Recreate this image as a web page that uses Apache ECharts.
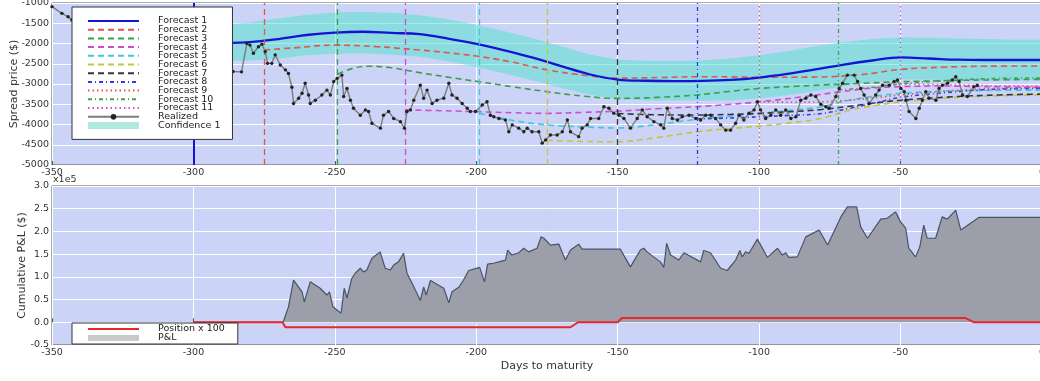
<!DOCTYPE html>
<html><head><meta charset="utf-8">
<script src="https://cdn.jsdelivr.net/npm/echarts@6/dist/echarts.min.js"></script>
<style>html,body{margin:0;padding:0;background:#fff}#c{width:1040px;height:381px}</style>
</head><body><div id="c"></div><script>
// ---------------- DATA ----------------
const dayTicks = {min: -350, max: 0, step: 50};
const priceTicks = {min: -5000, max: -1000, step: 500};
const pnlTicks = {min: -50000, max: 300000, step: 50000};

const f1 = [[-300,-1990],[-290,-1985],[-280,-1965],[-270,-1890],[-260,-1790],[-250,-1730],[-240,-1710],[-230,-1740],[-220,-1770],[-210,-1880],[-200,-2010],[-190,-2170],[-180,-2350],[-170,-2560],[-160,-2760],[-150,-2890],[-140,-2920],[-130,-2930],[-120,-2925],[-110,-2900],[-100,-2840],[-90,-2750],[-80,-2640],[-70,-2520],[-60,-2420],[-50,-2345],[-40,-2370],[-30,-2400],[-20,-2407],[-10,-2407],[0,-2407]];
const f2 = [[-275,-2160],[-265,-2110],[-250,-2040],[-235,-2080],[-220,-2160],[-210,-2230],[-200,-2310],[-188,-2450],[-175,-2650],[-160,-2800],[-150,-2855],[-135,-2840],[-122,-2820],[-110,-2825],[-100,-2835],[-82,-2830],[-64,-2770],[-50,-2640],[-35,-2585],[-20,-2560],[0,-2555]];
const f3 = [[-249,-2760],[-244,-2620],[-238,-2560],[-230,-2600],[-220,-2720],[-210,-2830],[-199,-2945],[-187,-3070],[-175,-3190],[-162,-3300],[-150,-3355],[-136,-3330],[-122,-3270],[-110,-3180],[-100,-3110],[-88,-3060],[-78,-3025],[-64,-2985],[-50,-2945],[-35,-2920],[-20,-2900],[0,-2885]];
const f4 = [[-225,-3640],[-212,-3660],[-199,-3685],[-187,-3710],[-175,-3725],[-162,-3700],[-150,-3670],[-136,-3610],[-122,-3560],[-110,-3500],[-100,-3440],[-85,-3320],[-72,-3200],[-60,-3100],[-50,-3066],[-35,-3050],[-20,-3065],[0,-3080]];
const f5 = [[-199,-3720],[-187,-3900],[-175,-4010],[-162,-4060],[-150,-4085],[-136,-4000],[-122,-3870],[-110,-3790],[-100,-3730],[-88,-3640],[-78,-3560],[-68,-3400],[-57,-3280],[-40,-3190],[-20,-3160],[0,-3150]];
const f6 = [[-175,-4390],[-162,-4420],[-150,-4425],[-136,-4320],[-122,-4180],[-110,-4100],[-100,-4040],[-88,-3950],[-78,-3850],[-68,-3650],[-58,-3520],[-50,-3440],[-30,-3330],[-15,-3290],[0,-3270]];
const f7 = [[-150,-3730],[-136,-3760],[-122,-3765],[-110,-3750],[-100,-3725],[-88,-3680],[-78,-3630],[-68,-3550],[-58,-3460],[-50,-3400],[-30,-3310],[-15,-3270],[0,-3250]];
const f8 = [[-122,-3860],[-110,-3840],[-100,-3810],[-88,-3770],[-78,-3730],[-68,-3600],[-58,-3450],[-50,-3330],[-35,-3220],[-20,-3140],[0,-3105]];
const f9 = [[-100,-3440],[-88,-3450],[-78,-3440],[-68,-3400],[-58,-3330],[-50,-3270],[-35,-3180],[-20,-3120],[0,-3080]];
const f10 = [[-72,-3150],[-60,-3080],[-50,-3000],[-35,-2920],[-20,-2870],[0,-2850]];
const f11 = [[-50,-3000],[-35,-3020],[-20,-3040],[0,-3050]];
const forecasts = [f1,f2,f3,f4,f5,f6,f7,f8,f9,f10,f11];
const forecastNames = ['Forecast 1','Forecast 2','Forecast 3','Forecast 4','Forecast 5','Forecast 6','Forecast 7','Forecast 8','Forecast 9','Forecast 10','Forecast 11'];

const bandDays  = [-300,-290,-280,-270,-260,-250,-240,-230,-220,-210,-200,-190,-180,-170,-160,-150,-140,-130,-120,-110,-100,-90,-80,-70,-60,-50,-40,-30,-20,-10,0];
const bandUpper = [-1545,-1530,-1480,-1380,-1290,-1235,-1220,-1240,-1300,-1400,-1540,-1700,-1870,-2070,-2270,-2400,-2425,-2430,-2420,-2370,-2290,-2190,-2060,-1970,-1890,-1850,-1860,-1875,-1890,-1905,-1910];
const bandLower = [-2450,-2430,-2420,-2370,-2290,-2250,-2240,-2280,-2330,-2440,-2580,-2740,-2910,-3090,-3260,-3370,-3400,-3410,-3410,-3400,-3360,-3280,-3170,-3050,-2960,-2880,-2890,-2920,-2920,-2915,-2910];

const realized = [[-350,-1090],[-346.5,-1255],[-344.3,-1340],[-343,-1420],[-338,-1650],[-330,-1900],[-320,-2150],[-310,-2350],[-300,-2500],[-292,-2620],[-286,-2690],
[-283,-2700],[-281.1,-2000],[-280,-2040],[-278.8,-2240],[-277,-2080],[-275.8,-2020],[-274.6,-2200],[-273.8,-2490],[-272.3,-2490],[-271.1,-2280],[-269.3,-2530],[-267.5,-2650],[-266.4,-2740],[-265.2,-3080],[-264.6,-3480],[-262.8,-3350],[-261.6,-3230],[-260.5,-2980],[-259.3,-3270],[-258.7,-3480],[-256.9,-3400],[-254.6,-3270],[-252.8,-3150],[-251.6,-3270],[-250.4,-2940],[-249.2,-2860],[-247.5,-2780],[-246.9,-3310],[-245.7,-3110],[-244.5,-3400],[-243.4,-3600],[-241,-3770],[-239.2,-3640],[-238.1,-3680],[-236.9,-3970],[-233.9,-4090],[-232.8,-3770],[-231,-3680],[-229.2,-3850],[-226.8,-3930],[-225.4,-4090],[-224.5,-3680],[-223.3,-3640],[-222.1,-3400],[-219.8,-3030],[-218.6,-3350],[-217.4,-3150],[-215.6,-3480],[-213.9,-3400],[-211.5,-3350],[-209.7,-2980],[-208.6,-3270],[-206.8,-3350],[-205,-3480],[-203.2,-3600],[-202.1,-3680],[-200.3,-3680],[-197.9,-3520],[-196.2,-3440],[-195,-3770],[-193.8,-3810],[-192,-3850],[-189.7,-3890],[-188.5,-4180],[-187.3,-4010],[-185,-4090],[-183.2,-4180],[-182,-4090],[-180.3,-4180],[-177.9,-4180],[-176.7,-4460],[-175.5,-4380],[-173.8,-4260],[-171.4,-4260],[-169.6,-4180],[-167.8,-3890],[-166.7,-4180],[-163.8,-4300],[-162.6,-4090],[-160.8,-4010],[-159.6,-3850],[-156.7,-3850],[-154.9,-3560],[-153.1,-3600],[-151.4,-3720],[-149.6,-3770],[-147.8,-3850],[-145.5,-4090],[-143.1,-3850],[-141.3,-3640],[-139.6,-3810],[-137.2,-3930],[-134.8,-4010],[-133.7,-4090],[-132.5,-3600],[-130.7,-3850],[-128.9,-3890],[-127.2,-3810],[-124.8,-3770],[-122.4,-3850],[-120.7,-3890],[-118.9,-3770],[-117.1,-3770],[-115.4,-3850],[-113.6,-4010],[-111.8,-4140],[-110.1,-4140],[-108.3,-3970],[-107.1,-3770],[-105.4,-3890],[-103.6,-3720],[-101.8,-3640],[-100.6,-3440],[-99.5,-3640],[-97.7,-3850],[-95.9,-3770],[-94.1,-3640],[-92.4,-3770],[-90.6,-3640],[-88.8,-3850],[-87,-3810],[-85.3,-3400],[-83.5,-3350],[-81.7,-3270],[-80,-3310],[-78.2,-3500],[-76.4,-3560],[-75.3,-3600],[-72.9,-3310],[-71.7,-3110],[-70.5,-2980],[-68.8,-2780],[-66.4,-2780],[-65.2,-2940],[-64.1,-3110],[-62.9,-3270],[-61.1,-3480],[-58.8,-3270],[-57.6,-3150],[-56.4,-3030],[-54,-3030],[-52.3,-2940],[-51.1,-2900],[-49.9,-3110],[-48.7,-3190],[-48.1,-3400],[-47,-3680],[-44.6,-3850],[-43.4,-3600],[-42.3,-3400],[-41.1,-3190],[-39.9,-3350],[-37.5,-3400],[-36.4,-3110],[-35.2,-3030],[-33.4,-2980],[-31.7,-2900],[-30.5,-2820],[-29.3,-2940],[-28.1,-3270],[-26.4,-3310],[-24.1,-3070],[-22.9,-3030]];

const pnl = [[-300,0],[-268.3,0],[-266.4,34000],[-264.6,93000],[-261.6,67000],[-260.8,45000],[-258.7,89000],[-255.2,75000],[-252.8,60000],[-251.9,67000],[-250.7,34000],[-247.8,20000],[-246.7,75000],[-245.7,53000],[-244,97000],[-242.8,108000],[-241,119000],[-239.9,111000],[-238.7,115000],[-236.9,141000],[-234,155000],[-232.2,119000],[-230.4,115000],[-229.2,126000],[-227.5,133000],[-225.7,152000],[-224.5,108000],[-222.7,86000],[-221,64000],[-219.8,48000],[-218.6,78000],[-217.7,60000],[-216.2,92000],[-211.5,75000],[-209.7,43000],[-208.6,67000],[-206.2,77000],[-204.5,93000],[-202.7,114000],[-200.9,117000],[-198.8,121000],[-197.1,89000],[-196,128000],[-193.9,130000],[-189.7,137000],[-188.9,159000],[-187.4,148000],[-185,153000],[-183.2,163000],[-181.5,155000],[-178.5,163000],[-177.1,188000],[-176.1,185000],[-173.8,170000],[-170.8,172000],[-168.5,137000],[-166.7,159000],[-163.8,172000],[-162.6,161000],[-149.1,161000],[-145.5,122000],[-142,159000],[-140.8,163000],[-139.6,155000],[-139.1,159000],[-137.3,144000],[-134.9,133000],[-133.7,121000],[-132.7,174000],[-131.3,148000],[-128.4,137000],[-126.6,153000],[-120.7,133000],[-119.6,158000],[-117.2,153000],[-113.6,119000],[-111.3,114000],[-108.3,137000],[-106.8,158000],[-106,144000],[-104.8,155000],[-103.6,152000],[-100.6,183000],[-97.1,143000],[-93.5,163000],[-91.8,148000],[-90.6,153000],[-89.5,143000],[-86.5,144000],[-83.5,188000],[-78.8,203000],[-75.8,170000],[-71.1,232000],[-68.8,254000],[-65.5,254000],[-64.1,210000],[-61.7,185000],[-57,227000],[-54.7,229000],[-51.8,243000],[-50,221000],[-48.2,207000],[-47.1,163000],[-44.7,144000],[-43.2,166000],[-41.8,214000],[-40.6,185000],[-37.6,185000],[-35.3,232000],[-33.5,227000],[-30.5,247000],[-28.7,203000],[-22.2,231000],[0,231000]];
const position = [[-300,0],[-268.5,0],[-267.5,-11000],[-166.7,-11000],[-164,0],[-150,0],[-148.5,9500],[-27.2,9500],[-24,0],[0,0]];

// ---------------- STYLE ----------------
const FONT = 'DejaVu Sans';
const fStyles = [
  {color:'#1414d2', type:'solid', width:2.3},
  {color:'#e0554c', type:[6,4], width:1.6},
  {color:'#3c9e4c', type:[6,4], width:1.6},
  {color:'#cf4ccf', type:[6,4], width:1.6},
  {color:'#3ec6de', type:[6,4], width:1.6},
  {color:'#c9c23e', type:[6,4], width:1.6},
  {color:'#343444', type:[6,4], width:1.6},
  {color:'#3a3ae0', type:[4,3,1,3], width:1.6},
  {color:'#e05050', type:[1.5,3], width:1.6},
  {color:'#42a052', type:[4,3,1,3], width:1.6},
  {color:'#d050d0', type:[1.5,3], width:1.6}
];
const BG = '#cbd4f7';
const BAND_FILL = 'rgba(76,225,204,0.5)';

const series = [];
// confidence band drawn as a polygon through the axis scales
series.push({type:'custom', name:'Confidence 1', xAxisIndex:0, yAxisIndex:0, z:1, silent:true,
  itemStyle:{color:'#aeeadf'},
  encode:{x:0, y:[1,2]},
  data: bandDays.map((d,i)=>[d, bandUpper[i], bandLower[i]]),
  renderItem: function(params, api){
    if (params.dataIndex !== 0) return null;
    const pts = [];
    for (let i = 0; i < bandDays.length; i++) pts.push(api.coord([bandDays[i], bandUpper[i]]));
    for (let i = bandDays.length - 1; i >= 0; i--) pts.push(api.coord([bandDays[i], bandLower[i]]));
    return {type:'polygon', shape:{points: pts}, style:{fill: BAND_FILL}};
  }
});

forecasts.forEach((f, i) => {
  const s = fStyles[i];
  series.push({type:'line', name: forecastNames[i], xAxisIndex:0, yAxisIndex:0, data: f,
    symbol:'none', showSymbol:false, smooth:0.4, lineStyle:{color:s.color, type:s.type, width:s.width}, itemStyle:{color:s.color},
    z: i===0 ? 4 : 3,
    markLine:{silent:true, symbol:['none','none'], label:{show:false}, animation:false,
      lineStyle:{color:s.color, type:s.type, width: i===0 ? 2 : 1.3},
      data:[{xAxis: f[0][0]}]}
  });
});
series.push({type:'line', name:'Realized', xAxisIndex:0, yAxisIndex:0, data: realized,
  symbol:'circle', symbolSize:3.4, showSymbol:true, lineStyle:{color:'#7c7c7c', width:1.4},
  itemStyle:{color:'#222'}, z:5});

series.push({type:'line', name:'P&L', xAxisIndex:1, yAxisIndex:1, data: pnl, symbol:'none', showSymbol:false,
  lineStyle:{color:'#4a5366', width:1.2}, itemStyle:{color:'#c8c8c8'}, areaStyle:{color:'#9c9ea9', opacity:1}, z:2});
series.push({type:'line', name:'Position x 100', xAxisIndex:1, yAxisIndex:1, data: position, symbol:'none', showSymbol:false,
  lineStyle:{color:'#e8262c', width:2}, itemStyle:{color:'#e8262c'}, z:3});

function xAx(grid, withName){
  const a = {gridIndex:grid, type:'value', min:dayTicks.min, max:dayTicks.max, interval:dayTicks.step,
    axisLine:{show:false}, axisTick:{show:true, inside:true, length:4, lineStyle:{color:'#555'}},
    axisLabel:{fontSize:9.5, color:'#333', margin:3, fontFamily:FONT, formatter:v=>String(v)},
    splitLine:{show:true, lineStyle:{color:'#ffffff', width:1}}};
  if (withName) Object.assign(a, {name:'Days to maturity', nameLocation:'middle', nameGap:16, nameMoveOverlap:false,
    nameTextStyle:{fontSize:11, color:'#333', fontFamily:FONT}});
  return a;
}

const option = {
  animation:false,
  backgroundColor:'#ffffff',
  textStyle:{fontFamily:FONT},
  grid:[
    {left:52, top:3, width:990, height:162, show:true, backgroundColor:BG, borderColor:'#555', borderWidth:1, containLabel:false, outerBoundsMode:'none'},
    {left:52, top:186, width:990, height:159, show:true, backgroundColor:BG, borderColor:'#555', borderWidth:1, containLabel:false, outerBoundsMode:'none'}
  ],
  xAxis:[xAx(0,false), xAx(1,true)],
  yAxis:[
    {gridIndex:0, type:'value', min:priceTicks.min, max:priceTicks.max, interval:priceTicks.step,
     name:'Spread price ($)', nameLocation:'middle', nameGap:32, nameMoveOverlap:false, nameTextStyle:{fontSize:11, color:'#333', fontFamily:FONT},
     axisLine:{show:false}, axisTick:{show:true, inside:true, length:4, lineStyle:{color:'#555'}},
     axisLabel:{fontSize:9.5, color:'#333', margin:3, fontFamily:FONT, formatter:v=>String(v)},
     splitLine:{show:true, lineStyle:{color:'#ffffff', width:1}}},
    {gridIndex:1, type:'value', min:pnlTicks.min, max:pnlTicks.max, interval:pnlTicks.step,
     name:'Cumulative P&L ($)', nameLocation:'middle', nameGap:24, nameMoveOverlap:false, nameTextStyle:{fontSize:11, color:'#333', fontFamily:FONT},
     axisLine:{show:false}, axisTick:{show:true, inside:true, length:4, lineStyle:{color:'#555'}},
     axisLabel:{fontSize:9.5, color:'#333', margin:3, fontFamily:FONT, formatter:v=>(v/1e5).toFixed(1)},
     splitLine:{show:true, lineStyle:{color:'#ffffff', width:1}}}
  ],
  graphic:[{type:'text', left:53, top:175, style:{text:'x1e5', fontSize:9.5, fill:'#333', fontFamily:FONT}}],
  legend:[
    {orient:'vertical', left:72, top:7, itemWidth:51, itemHeight:7, itemGap:-1.3, selectedMode:false, z:20,
     backgroundColor:'#ffffff', borderColor:'#333', borderWidth:1, padding:[9,12,9,15],
     itemStyle:{opacity:0},
     textStyle:{fontSize:9.5, lineHeight:8.75, color:'#222', fontFamily:FONT, padding:[0,0,0,14]},
     data: forecastNames.concat([{name:'Realized', itemStyle:{opacity:1}}, {name:'Confidence 1', icon:'rect', itemStyle:{color:'#aeeadf', opacity:1}}])},
    {orient:'vertical', left:72, top:323, itemWidth:51, itemHeight:6, itemGap:-1, selectedMode:false, z:20,
     backgroundColor:'#ffffff', borderColor:'#333', borderWidth:1, padding:[1,13,1,15],
     itemStyle:{opacity:0},
     textStyle:{fontSize:9.5, lineHeight:9.2, color:'#222', fontFamily:FONT, padding:[0,0,0,14]},
     data:['Position x 100', {name:'P&L', icon:'rect', itemStyle:{color:'#c9c9c9', opacity:1}}]}
  ],
  series: series
};
const chart = echarts.init(document.getElementById('c'), null, {renderer:'canvas'});
chart.setOption(option);
</script></body></html>
